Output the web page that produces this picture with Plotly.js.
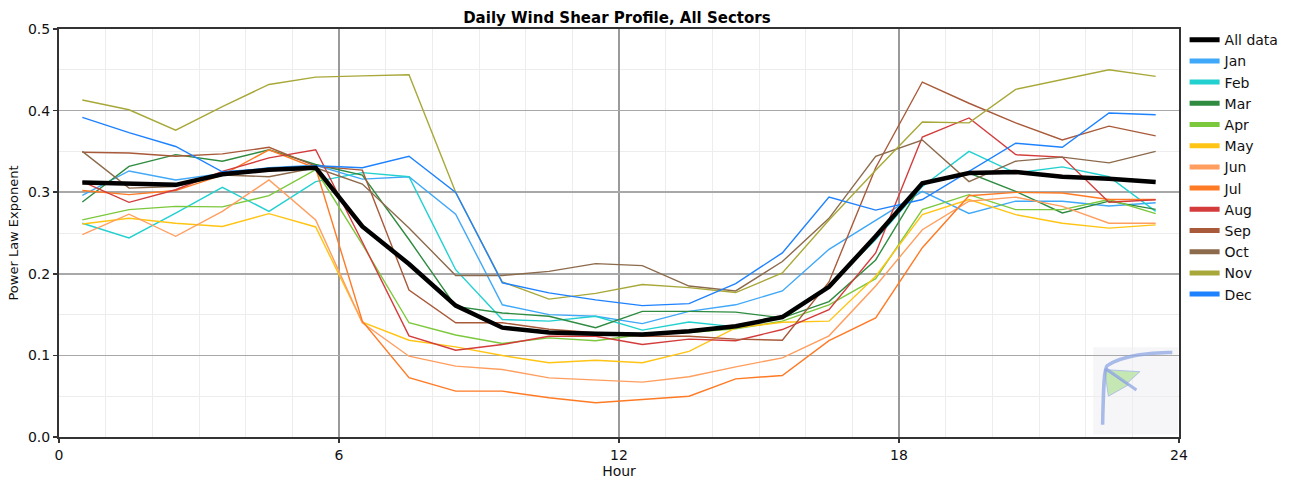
<!DOCTYPE html>
<html>
<head>
<meta charset="utf-8">
<script src="https://cdn.plot.ly/plotly-3.0.1.min.js"></script>
<style>html,body{margin:0;padding:0;background:#fff;}#chart{width:1296px;height:483px;}</style>
</head>
<body>
<div id="chart"></div>
<script>
// Hour of day (bin centres)
const hours = [0.5,1.5,2.5,3.5,4.5,5.5,6.5,7.5,8.5,9.5,10.5,11.5,12.5,13.5,14.5,15.5,16.5,17.5,18.5,19.5,20.5,21.5,22.5,23.5];

const allData = [0.312,0.310,0.309,0.322,0.3275,0.330,0.258,0.212,0.161,0.134,0.128,0.1264,0.1256,0.1296,0.1357,0.147,0.184,0.246,0.311,0.3235,0.3247,0.319,0.3165,0.3125];
const jan = [0.296,0.326,0.315,0.323,0.330,0.333,0.316,0.319,0.273,0.162,0.150,0.148,0.139,0.154,0.162,0.179,0.230,0.266,0.301,0.274,0.289,0.289,0.283,0.287];
const feb = [0.262,0.244,0.2745,0.306,0.2765,0.313,0.324,0.319,0.205,0.144,0.142,0.148,0.131,0.141,0.135,0.148,0.185,0.242,0.307,0.350,0.3235,0.331,0.319,0.2765];
const mar = [0.288,0.3316,0.346,0.338,0.352,0.334,0.321,0.242,0.160,0.152,0.148,0.134,0.154,0.154,0.153,0.146,0.166,0.217,0.311,0.3235,0.301,0.2745,0.289,0.279];
const apr = [0.266,0.2786,0.2826,0.282,0.2957,0.3275,0.236,0.140,0.125,0.1146,0.1215,0.118,0.1256,0.128,0.1325,0.142,0.162,0.194,0.2786,0.297,0.2786,0.2786,0.291,0.2737];
const may = [0.261,0.268,0.262,0.258,0.2737,0.2574,0.1406,0.1186,0.1105,0.0998,0.091,0.094,0.091,0.105,0.1338,0.1406,0.142,0.197,0.2725,0.291,0.2725,0.262,0.256,0.260];
const jun = [0.248,0.273,0.246,0.2765,0.315,0.266,0.140,0.099,0.0868,0.0827,0.0725,0.0697,0.0672,0.0738,0.086,0.097,0.124,0.185,0.254,0.289,0.294,0.2826,0.262,0.262];
const jul = [0.302,0.297,0.302,0.321,0.352,0.3296,0.142,0.0726,0.0562,0.0562,0.0481,0.042,0.046,0.050,0.0713,0.0754,0.118,0.146,0.232,0.2957,0.2998,0.299,0.291,0.291];
const aug = [0.313,0.2876,0.303,0.3255,0.342,0.352,0.239,0.124,0.1064,0.1133,0.1235,0.1235,0.1133,0.120,0.118,0.1317,0.156,0.2256,0.3676,0.391,0.346,0.343,0.2876,0.2908];
const sep = [0.349,0.348,0.344,0.347,0.355,0.332,0.327,0.180,0.140,0.140,0.132,0.128,0.1235,0.1235,0.120,0.1186,0.190,0.330,0.435,0.409,0.385,0.364,0.381,0.369];
const oct = [0.350,0.305,0.307,0.321,0.319,0.330,0.310,0.256,0.198,0.198,0.203,0.2125,0.210,0.185,0.179,0.215,0.268,0.344,0.364,0.313,0.338,0.343,0.336,0.350];
const nov = [0.413,0.401,0.376,0.405,0.432,0.441,0.4426,0.444,0.300,0.190,0.169,0.176,0.1868,0.183,0.177,0.201,0.266,0.327,0.386,0.385,0.426,0.4377,0.450,0.442];
const dec = [0.3916,0.373,0.356,0.325,0.329,0.3324,0.330,0.344,0.2998,0.189,0.1766,0.168,0.161,0.1635,0.188,0.2256,0.294,0.278,0.291,0.326,0.360,0.355,0.397,0.395];

const seriesNames = ['All data','Jan','Feb','Mar','Apr','May','Jun','Jul','Aug','Sep','Oct','Nov','Dec'];
const seriesValues = [allData,jan,feb,mar,apr,may,jun,jul,aug,sep,oct,nov,dec];
const seriesColors = ['#000000','#40a8f8','#22d0d0','#2e8b40','#7cc83c','#ffc414','#ff9e5e','#ff7a24','#d43c3c','#a85a3a','#8c6a4c','#a8a83a','#1e82ff'];

const traces = [];
// plotted lines: months first, all data last (on top)
for (let i = 1; i < seriesNames.length; i++) {
  traces.push({x: hours, y: seriesValues[i], type: 'scatter', mode: 'lines', name: seriesNames[i],
    line: {color: seriesColors[i], width: 1.4}, showlegend: false, hoverinfo: 'skip'});
}
traces.push({x: hours, y: allData, type: 'scatter', mode: 'lines', name: 'All data',
  line: {color: '#000', width: 4.5}, showlegend: false});
// legend entries (thick samples)
for (let i = 0; i < seriesNames.length; i++) {
  traces.push({x: [null], y: [null], type: 'scatter', mode: 'lines', name: seriesNames[i],
    line: {color: seriesColors[i], width: 5}, showlegend: true});
}

// small faint watermark logo in lower-right corner (decoration, paper coords)
const logoShapes = [
  {type: 'rect', xref: 'paper', yref: 'paper', x0: 0.9234, x1: 0.9991, y0: 0.006, y1: 0.22,
   fillcolor: '#f6f6f9', line: {width: 0}, layer: 'below'},
  {type: 'path', xref: 'paper', yref: 'paper', path: 'M0.9335,0.165 L0.955,0.128 L0.937,0.1 Z',
   fillcolor: '#b4e29e', opacity: 0.75, line: {color: '#9ab0e0', width: 1}},
  {type: 'path', xref: 'paper', yref: 'paper', path: 'M0.9345,0.165 L0.965,0.16 L0.953,0.13 Z',
   fillcolor: '#b4e29e', opacity: 0.75, line: {color: '#9ab0e0', width: 1}},
  {type: 'path', xref: 'paper', yref: 'paper', path: 'M0.9318,0.03 C0.9325,0.12 0.933,0.17 0.936,0.175 C0.95,0.2 0.975,0.208 0.994,0.207',
   opacity: 0.75, line: {color: '#8fa6e2', width: 3.5}},
  {type: 'path', xref: 'paper', yref: 'paper', path: 'M0.9345,0.168 L0.962,0.115',
   opacity: 0.75, line: {color: '#8fa6e2', width: 3}}
];

const layout = {
  width: 1296, height: 483,
  margin: {l: 59, r: 115, t: 29, b: 46},
  paper_bgcolor: '#fff', plot_bgcolor: '#fff',
  font: {family: 'DejaVu Sans, Verdana, sans-serif', size: 14, color: '#111'},
  title: {text: 'Daily Wind Shear Profile, All Sectors', x: 0.476, xanchor: 'center', y: 0.963, yanchor: 'middle',
    font: {family: 'DejaVu Sans, Verdana, sans-serif', size: 15, color: '#000', weight: 'bold'}},
  xaxis: {
    range: [0, 24], tickvals: [0, 6, 12, 18, 24], ticktext: ['0','6','12','18','24'],
    showgrid: true, gridcolor: '#9a9a9a', gridwidth: 1.5,
    minor: {dtick: 1, showgrid: true, gridcolor: '#ededed', gridwidth: 1},
    showline: true, linecolor: '#333', linewidth: 2, mirror: true,
    ticks: 'outside', ticklen: 4, tickcolor: '#333', tickwidth: 1.5,
    zeroline: false,
    title: {text: 'Hour', font: {size: 14, family: 'DejaVu Sans, Verdana, sans-serif'}, standoff: 4},
    tickfont: {size: 14}
  },
  yaxis: {
    range: [0, 0.5], tickvals: [0, 0.1, 0.2, 0.3, 0.4, 0.5], ticktext: ['0.0','0.1','0.2','0.3','0.4','0.5'],
    showgrid: true, gridcolor: '#a8a8a8', gridwidth: 1.5,
    minor: {dtick: 0.05, showgrid: true, gridcolor: '#ededed', gridwidth: 1},
    showline: true, linecolor: '#333', linewidth: 2, mirror: true,
    ticks: 'outside', ticklen: 4, tickcolor: '#333', tickwidth: 1.5,
    zeroline: false,
    title: {text: 'Power Law Exponent', font: {size: 13, family: 'DejaVu Sans, Verdana, sans-serif'}, standoff: 6},
    tickfont: {size: 14}
  },
  legend: {x: 1.005, xanchor: 'left', y: 1.012, yanchor: 'top', bgcolor: 'rgba(0,0,0,0)', maxheight: 420,
    font: {size: 14, family: 'DejaVu Sans, Verdana, sans-serif', color: '#111'}, itemwidth: 30, tracegroupgap: 0},
  shapes: logoShapes,
  showlegend: true
};

Plotly.newPlot('chart', traces, layout, {displayModeBar: false, staticPlot: true});
</script>
</body>
</html>
